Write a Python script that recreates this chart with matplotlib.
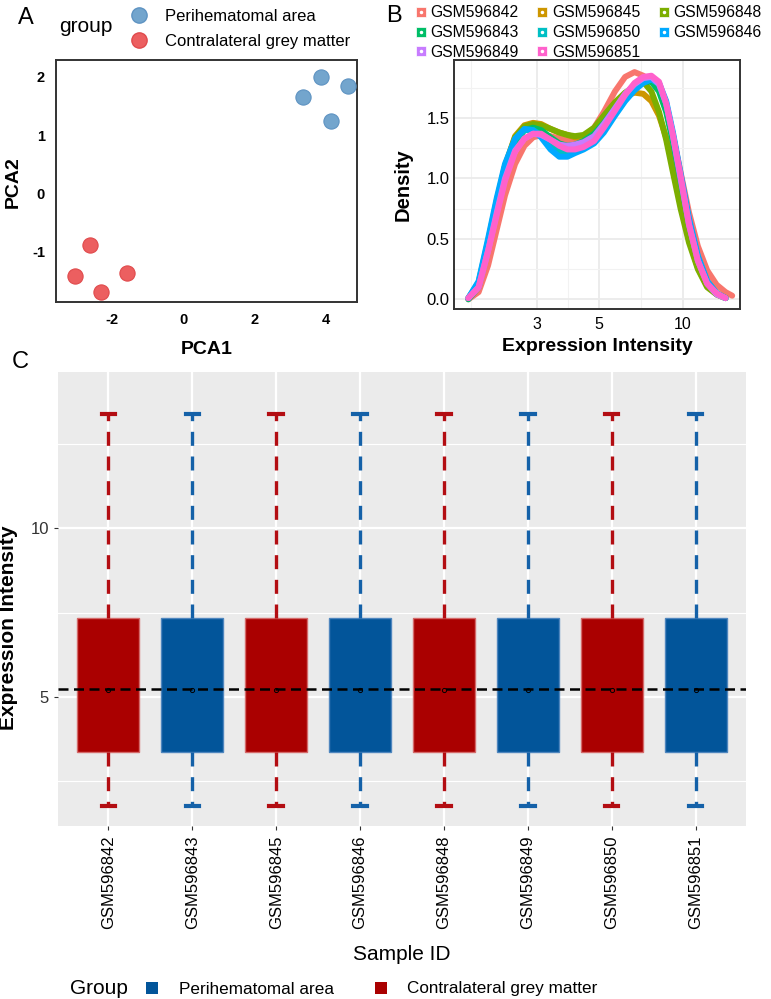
import numpy as np
import matplotlib.pyplot as plt
from matplotlib.lines import Line2D
from matplotlib.patches import Patch
from matplotlib.legend_handler import HandlerTuple

plt.rcParams['font.family'] = ['Liberation Sans', 'DejaVu Sans']
plt.rcParams['axes.unicode_minus'] = False

# ---- Panel A: PCA ----
pca_groups = ['Perihematomal area', 'Contralateral grey matter']
pca1_peri = [3.36, 3.86, 4.62, 4.14]
pca2_peri = [1.65, 2.00, 1.85, 1.25]
pca1_contra = [-2.63, -3.05, -1.59, -2.32]
pca2_contra = [-0.89, -1.41, -1.36, -1.68]

# ---- Panel B: density of expression per sample ----
dens_x = [1.70, 1.85, 2.0, 2.15, 2.3, 2.5, 2.7, 2.9, 3.1, 3.35, 3.6, 3.85, 4.1, 4.4, 4.8,
          5.2, 5.7, 6.2, 6.7, 7.2, 7.7, 8.2, 8.7, 9.2, 9.8, 10.5, 11.3, 12.2, 13.2, 14.2, 15.0]
nan = np.nan
d_842 = [0.00, 0.06, 0.28, 0.58, 0.86, 1.12, 1.27, 1.34, 1.36, 1.35, 1.33, 1.31, 1.31, 1.34, 1.42,
         1.55, 1.72, 1.84, 1.88, 1.85, 1.80, 1.74, 1.58, 1.35, 1.05, 0.72, 0.44, 0.24, 0.12, 0.06, 0.03]
d_845 = [0.01, 0.12, 0.45, 0.80, 1.10, 1.35, 1.44, 1.46, 1.45, 1.41, 1.38, 1.36, 1.34, 1.35, 1.41,
         1.50, 1.60, 1.68, 1.71, 1.70, 1.64, 1.52, 1.34, 1.10, 0.80, 0.50, 0.26, 0.11, 0.04, 0.01, nan]
d_848 = [0.01, 0.12, 0.45, 0.80, 1.10, 1.34, 1.43, 1.45, 1.44, 1.41, 1.38, 1.36, 1.35, 1.36, 1.42,
         1.52, 1.63, 1.71, 1.76, 1.80, 1.72, 1.55, 1.32, 1.05, 0.75, 0.47, 0.25, 0.10, 0.04, 0.01, nan]
d_843 = [0.00, 0.10, 0.42, 0.76, 1.06, 1.30, 1.40, 1.42, 1.40, 1.34, 1.29, 1.27, 1.28, 1.31, 1.37,
         1.46, 1.58, 1.68, 1.76, 1.80, 1.80, 1.72, 1.55, 1.30, 0.98, 0.62, 0.33, 0.14, 0.05, 0.01, nan]
d_850 = [0.01, 0.14, 0.48, 0.82, 1.10, 1.32, 1.40, 1.40, 1.36, 1.28, 1.22, 1.21, 1.23, 1.26, 1.31,
         1.40, 1.53, 1.65, 1.74, 1.80, 1.82, 1.78, 1.62, 1.36, 1.02, 0.65, 0.35, 0.15, 0.05, 0.01, nan]
d_846 = [0.01, 0.15, 0.50, 0.84, 1.12, 1.33, 1.41, 1.40, 1.34, 1.24, 1.18, 1.18, 1.21, 1.24, 1.29,
         1.38, 1.52, 1.64, 1.73, 1.79, 1.82, 1.79, 1.64, 1.38, 1.04, 0.67, 0.36, 0.15, 0.05, 0.01, nan]
d_849 = [0.01, 0.10, 0.40, 0.72, 1.00, 1.23, 1.33, 1.37, 1.36, 1.32, 1.28, 1.27, 1.28, 1.30, 1.35,
         1.45, 1.58, 1.70, 1.78, 1.83, 1.84, 1.78, 1.62, 1.35, 1.00, 0.62, 0.32, 0.13, 0.04, 0.01, nan]
d_851 = [0.01, 0.10, 0.40, 0.70, 0.98, 1.22, 1.33, 1.37, 1.37, 1.32, 1.27, 1.24, 1.24, 1.26, 1.31,
         1.42, 1.56, 1.69, 1.79, 1.84, 1.85, 1.80, 1.62, 1.36, 1.02, 0.62, 0.32, 0.13, 0.05, 0.01, nan]
dens_samples = ['GSM596842', 'GSM596845', 'GSM596848', 'GSM596843',
                'GSM596850', 'GSM596846', 'GSM596849', 'GSM596851']
dens_values = [d_842, d_845, d_848, d_843, d_850, d_846, d_849, d_851]
dens_colors = ['#F8766D', '#CD9600', '#7CAE00', '#00BE67', '#00BFC4', '#00A9FF', '#C77CFF', '#FF61CC']

# ---- Panel C: boxplots ----
box_samples = ['GSM596842', 'GSM596843', 'GSM596845', 'GSM596846',
               'GSM596848', 'GSM596849', 'GSM596850', 'GSM596851']
box_group = ['Contralateral grey matter', 'Perihematomal area'] * 4
box_whislo = [1.78] * 8
box_q1 = [3.37] * 8
box_med = [5.22] * 8
box_q3 = [7.34] * 8
box_whishi = [13.37] * 8
median_all = 5.24

W, H = 771, 999
fig = plt.figure(figsize=(W / 100, H / 100), dpi=100)

def fx(px):
    return px / W

def fy(py):
    return 1 - py / H

# ================= Panel A =================
axA = fig.add_axes([fx(56), fy(302), fx(357 - 56), (302 - 60) / H])
col_peri = '#73A5CD'
col_contra = '#EC5F60'
axA.scatter(pca1_peri, pca2_peri, s=120, color=col_peri, edgecolor='#5E93C2', linewidth=0.8, zorder=3)
axA.scatter(pca1_contra, pca2_contra, s=120, color=col_contra, edgecolor='#E04A4C', linewidth=0.8, zorder=3)
axA.set_xlim(-3.58, 4.87)
axA.set_ylim(-1.86, 2.29)
axA.set_xticks([-2, 0, 2, 4])
axA.set_yticks([-1, 0, 1, 2])
axA.tick_params(length=0, labelsize=10.5, pad=8)
for t in axA.get_xticklabels() + axA.get_yticklabels():
    t.set_fontweight('bold')
for s in axA.spines.values():
    s.set_color('#333333')
    s.set_linewidth(1.4)
axA.set_xlabel('PCA1', fontsize=14, fontweight='bold', labelpad=10)
axA.set_ylabel('PCA2', fontsize=14, fontweight='bold')
axA.yaxis.set_label_coords(-(56 - 22) / (357 - 56), (302 - 182) / (302 - 60))

fig.text(fx(59), fy(27), 'group', fontsize=15, va='center', ha='left')
hA = [Line2D([], [], marker='o', ls='none', ms=11, color=col_peri, mec='#5E93C2'),
      Line2D([], [], marker='o', ls='none', ms=11, color=col_contra, mec='#E04A4C')]
fig.legend(hA, pca_groups, loc='upper left', bbox_to_anchor=(fx(117), fy(-3)),
           frameon=False, fontsize=12, handletextpad=1.0, labelspacing=0.6,
           borderpad=0.2, handlelength=1.2)

fig.text(fx(18), fy(18), 'A', fontsize=17, ha='left', va='center')
fig.text(fx(386), fy(16), 'B', fontsize=17, ha='left', va='center')
fig.text(fx(12), fy(362), 'C', fontsize=17, ha='left', va='center')

# ================= Panel B =================
axB = fig.add_axes([fx(454), fy(309), fx(740 - 454), (309 - 60) / H])
for name, vals, c in zip(dens_samples, dens_values, dens_colors):
    axB.plot(dens_x, vals, color=c, lw=4.3, solid_capstyle='round', solid_joinstyle='round',
             label=name, zorder=3)
axB.set_xscale('log')
axB.set_xlim(1.51, 16.0)
axB.set_ylim(-0.08, 1.98)
axB.set_xticks([3, 5, 10])
axB.set_xticklabels(['3', '5', '10'])
axB.set_xticks([np.sqrt(3), np.sqrt(15), np.sqrt(50)], minor=True)
axB.xaxis.set_minor_formatter(plt.NullFormatter())
axB.set_yticks([0.0, 0.5, 1.0, 1.5])
axB.set_yticklabels(['0.0', '0.5', '1.0', '1.5'])
axB.set_yticks([0.25, 0.75, 1.25, 1.75], minor=True)
axB.grid(True, which='major', color='#EBEBEB', lw=1.3)
axB.grid(True, which='minor', color='#F2F2F2', lw=0.8)
axB.set_axisbelow(True)
axB.tick_params(which='both', length=0)
axB.tick_params(axis='x', labelsize=11.5, pad=6)
axB.tick_params(axis='y', labelsize=12, pad=3)
for s in axB.spines.values():
    s.set_color('#333333')
    s.set_linewidth(1.4)
axB.set_xlabel('Expression Intensity', fontsize=14, fontweight='bold', labelpad=4)
axB.set_ylabel('Density', fontsize=14.5, fontweight='bold', labelpad=10)

order = [0, 3, 6, 1, 4, 7, 2, 5]
hB = [(Line2D([], [], marker='s', ls='none', ms=7, color=dens_colors[i], mec='white', mew=0.5),
       Line2D([], [], marker='o', ls='none', ms=1.5, color='white')) for i in order]
fig.legend(hB, [dens_samples[i] for i in order], loc='upper left',
           bbox_to_anchor=(fx(407), fy(-4)), ncol=3, frameon=False, fontsize=11.3,
           handler_map={tuple: HandlerTuple(ndivide=1)}, handlelength=0.6,
           handletextpad=0.3, columnspacing=1.2, labelspacing=0.3, borderpad=0.1)

# ================= Panel C =================
axC = fig.add_axes([fx(58), fy(826), fx(746 - 58), (826 - 372) / H])
axC.set_facecolor('#EBEBEB')
fill_map = {'Perihematomal area': '#02559A', 'Contralateral grey matter': '#AA0000'}
edge_map = {'Perihematomal area': '#4F86BE', 'Contralateral grey matter': '#D46A6A'}
whis_map = {'Perihematomal area': '#1461A8', 'Contralateral grey matter': '#B30D12'}
pos = np.arange(1, len(box_samples) + 1)
for i, g in enumerate(box_group):
    stats = [dict(whislo=box_whislo[i], q1=box_q1[i], med=box_med[i],
                  q3=box_q3[i], whishi=box_whishi[i], label=box_samples[i])]
    axC.bxp(stats, positions=[pos[i]], widths=0.74, patch_artist=True, showfliers=False,
            capwidths=0.16,
            boxprops=dict(facecolor=fill_map[g], edgecolor=edge_map[g], lw=1.0),
            whiskerprops=dict(color=whis_map[g], lw=2.4, ls=(0, (4.2, 3.2))),
            capprops=dict(color=whis_map[g], lw=3.0),
            medianprops=dict(lw=0))
    axC.plot(pos[i], box_med[i], marker='o', ms=3, mfc='none', mec='black', mew=0.7, zorder=5)
axC.axhline(median_all, color='black', lw=1.8, ls=(0, (4, 2.2)), zorder=6)
axC.set_xlim(0.4, len(box_samples) + 0.6)
axC.set_ylim(1.18, 14.62)
axC.set_xticks(pos)
axC.set_xticklabels(box_samples, rotation=90, fontsize=12, color='black')
axC.set_yticks([5, 10])
axC.set_yticklabels(['5', '10'], fontsize=12, color='#333333')
axC.set_yticks([2.5, 7.5, 12.5], minor=True)
axC.grid(True, which='major', color='white', lw=1.6)
axC.grid(True, which='minor', axis='y', color='white', lw=0.8)
axC.set_axisbelow(True)
axC.tick_params(which='major', length=3, color='#333333', width=0.8)
axC.tick_params(which='minor', length=0)
for s in axC.spines.values():
    s.set_visible(False)
axC.set_xlabel('Sample ID', fontsize=15, labelpad=12)
axC.set_ylabel('Expression Intensity', fontsize=15, fontweight='bold')
axC.yaxis.set_label_coords(-(58 - 18) / (746 - 58), (826 - 628) / (826 - 372))

fig.text(fx(70), fy(989), 'Group', fontsize=15, va='center', ha='left')
hC = [Patch(facecolor=fill_map['Perihematomal area']),
      Patch(facecolor=fill_map['Contralateral grey matter'])]
fig.legend(hC, ['Perihematomal area', 'Contralateral grey matter'], loc='center left',
           bbox_to_anchor=(fx(131), fy(989)), ncol=2, frameon=False, fontsize=12.3,
           handlelength=0.7, handleheight=0.7, handletextpad=1.2, columnspacing=2.4)

fig.savefig('out.png', dpi=100)
